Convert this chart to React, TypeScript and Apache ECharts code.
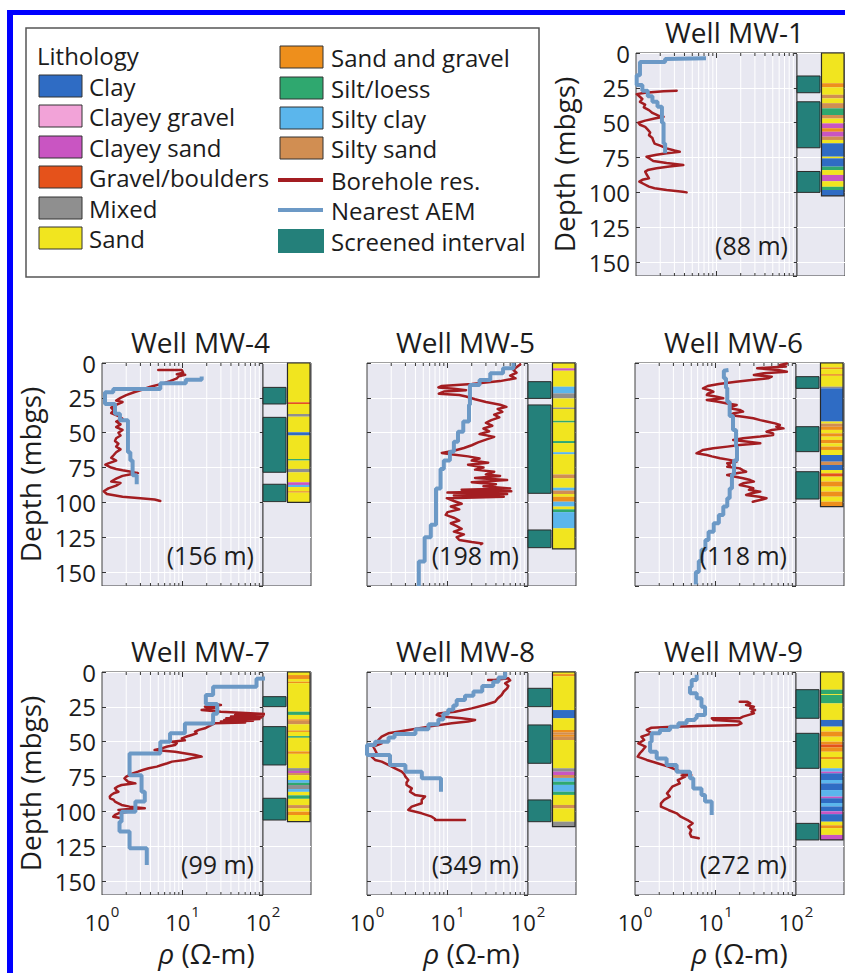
import React, { useEffect, useRef } from 'react';
import * as echarts from 'echarts';

const FONT = '"Open Sans", "DejaVu Sans", sans-serif';
const TXT = '#1c1c1c';
const BG = '#e8e8f1';
const FRAME = '#404040';
const RED = '#a31d21';
const BLUE = '#6c99c6';
const TEAL = '#24807a';

const LITH_TYPES = ['Clay', 'Clayey gravel', 'Clayey sand', 'Gravel/boulders', 'Mixed', 'Sand', 'Sand and gravel', 'Silt/loess', 'Silty clay', 'Silty sand'];
const LITH_COLORS = ['#2f6cc4', '#f2a3d8', '#c955c2', '#e5521b', '#8f8f8f', '#f1e51f', '#ee8f1c', '#2fa86f', '#5bb6ec', '#d18e52'];
const LINE_LEGEND = ['Borehole res.', 'Nearest AEM', 'Screened interval'];
const LEGEND_TITLE = 'Lithology';

const WELL_NAMES = ['Well MW-1', 'Well MW-4', 'Well MW-5', 'Well MW-6', 'Well MW-7', 'Well MW-8', 'Well MW-9'];
const DISTANCES = ['(88 m)', '(156 m)', '(198 m)', '(118 m)', '(99 m)', '(349 m)', '(272 m)'];
const GRID_VALUES = [2, 3, 4, 5, 6, 7, 8, 9, 10, 20, 30, 40, 50, 60, 70, 80, 90];
const DEPTH_MAX = 160;
const DEPTH_STEP = 25;
const RHO_MIN = 1;
const RHO_MAX = 100;

// ---------- MW-1 ----------
const MW1_RES = [[27, 3.2], [27.5, 2.2], [28.5, 1.3], [29.5, 1.02], [31, 1.1], [33, 1.2], [35, 1.12], [37, 1.3], [39, 1.25], [41, 1.45], [43, 1.6], [45, 1.9], [45.7, 2.2], [47, 1.7], [48.5, 1.3], [50, 1.07], [51.5, 1.12], [53, 1.3], [55, 1.4], [57, 1.5], [59, 1.45], [61, 1.6], [63, 1.64], [65, 1.7], [66.5, 2.0], [68.4, 2.4], [70, 3.0], [70.8, 3.5], [72, 2.4], [73, 1.8], [74.4, 1.35], [76, 1.5], [77.5, 1.64], [79, 2.4], [80.4, 3.87], [81.5, 2.6], [82.7, 1.8], [84, 1.4], [85.1, 1.3], [87, 1.35], [89.9, 1.45], [91, 1.2], [92.3, 1.1], [94, 1.25], [95.9, 1.45], [97, 1.7], [98.3, 2.4], [99.5, 3.8], [100, 4.26]];
const MW1_AEM_TOP = [3.8, 4.3, 6.5, 16, 23, 27, 31, 35, 38.5, 50, 65];
const MW1_AEM_RHO = [7.4, 2.3, 1.12, 1.02, 1.2, 1.4, 1.6, 1.85, 2.1, 2.2, 2.3];
const MW1_AEM_BOTTOM = 72;
const MW1_SCREENS = [[16.5, 28.5], [35, 68], [85, 100]];
const MW1_LITH = [[0, 21.7, 5], [21.7, 24.6, 6], [24.6, 30, 5], [30, 32.5, 9], [32.5, 36, 5], [36, 39.7, 9], [39.7, 44.5, 7], [44.5, 47, 9], [47, 50.5, 5], [50.5, 54, 2], [54, 56.5, 6], [56.5, 60, 2], [60, 62.4, 9], [62.4, 64.8, 5], [64.8, 74.4, 0], [74.4, 75.6, 5], [75.6, 81.5, 0], [81.5, 84, 7], [84, 87.5, 5], [87.5, 92, 2], [92, 96, 5], [96, 98.3, 7], [98.3, 102.5, 0]];

// ---------- MW-4 ----------
const MW4_RES = [[5, 5.0], [5, 9.8], [7, 10.2], [8, 8.5], [8.5, 10.8], [9.5, 9.0], [11, 8.5], [13, 7.0], [15, 5.5], [17, 4.0], [19, 3.2], [21, 2.5], [23, 2.0], [25, 1.7], [27, 1.5], [28, 1.8], [30, 1.5], [32, 1.3], [34, 1.4], [36, 1.3], [38, 1.6], [40, 1.8], [42, 1.5], [44, 1.7], [46, 1.5], [48, 1.8], [50, 1.6], [52, 1.7], [54, 1.5], [56, 1.45], [58, 1.6], [60, 1.5], [62, 1.7], [64, 1.5], [66, 1.4], [68, 1.3], [70, 1.5], [72, 1.2], [73, 1.1], [75, 1.3], [76, 1.5], [77, 1.8], [78, 2.3], [79, 2.8], [80, 2.2], [81, 1.8], [83, 1.5], [85, 1.3], [86, 1.7], [88, 1.5], [90, 1.2], [92, 1.05], [94, 1.15], [96, 1.8], [97, 3.0], [98, 4.5], [99, 5.3]];
const MW4_AEM_TOP = [9.6, 12, 14.5, 18.7, 21, 29.4, 36.5, 41, 64, 70, 80.6];
const MW4_AEM_RHO = [17.3, 11, 5.3, 1.38, 1.09, 1.45, 1.67, 2.1, 2.25, 2.4, 2.7];
const MW4_AEM_BOTTOM = 87;
const MW4_SCREENS = [[17.5, 29.4], [39, 78.4], [87, 99.5]];
const MW4_LITH = [[0, 28.2, 5], [28.2, 29.4, 3], [29.4, 36.6, 5], [36.6, 38.5, 4], [38.5, 49.7, 5], [49.7, 52, 0], [52, 68.9, 5], [68.9, 70, 7], [70, 76, 5], [76, 78.4, 4], [78.4, 85.6, 5], [85.6, 87.5, 2], [87.5, 89, 8], [89, 92, 5], [92, 93, 6], [93, 100, 5]];

// ---------- MW-5 ----------
const MW5_RES = [[1, 80], [3, 72], [5, 66], [7, 72], [9, 60], [11, 70], [13, 45], [15, 20], [16.5, 8.5], [17.5, 7.7], [18.5, 12], [19.5, 17], [20.5, 9], [22, 7.8], [23, 14], [24, 17], [26, 22], [28, 30], [30, 45], [31.5, 54], [33, 42], [35, 48], [37, 38], [39, 44], [41, 35], [43, 30], [45, 36], [47, 28], [49, 33], [51, 25], [53, 38], [55, 30], [57, 24], [59, 20], [61, 16], [63, 12], [64.5, 8.5], [65.5, 11], [67, 18], [68.5, 25], [70, 20], [71.5, 32], [73, 18], [75, 28], [76.5, 22], [78, 38], [80, 30], [81, 45], [82.5, 22], [84, 55], [85.5, 20], [87, 40], [88.5, 28], [90, 60], [91, 15], [92, 62], [93, 10], [94, 55], [95, 12], [96, 50], [97, 9.8], [99, 12], [101, 15], [103, 11], [105, 14], [107, 10], [109, 9.5], [111, 12], [113, 14], [115, 11], [117, 13], [119, 15], [121, 12], [123, 16], [125, 13], [127, 14], [128.5, 20], [129.5, 27], [130, 26]];
const MW5_AEM_TOP = [0, 3.8, 7.4, 12.2, 15.8, 30, 42, 49.3, 56.5, 63.6, 70, 76, 90, 116, 125, 142.5];
const MW5_AEM_RHO = [66, 49, 34, 25, 19, 18.5, 15.7, 13.5, 12, 10.7, 9, 8.2, 7.2, 6.2, 5.2, 4.4];
const MW5_AEM_BOTTOM = 160;
const MW5_SCREENS = [[13.4, 25.4], [30.1, 93.5], [119.8, 132.5]];
const MW5_LITH = [[0, 3.8, 5], [3.8, 5.5, 2], [5.5, 17, 5], [17, 21.8, 8], [21.8, 25.4, 4], [25.4, 32, 5], [32, 33, 4], [33, 41.5, 5], [41.5, 42.7, 7], [42.7, 56, 5], [56, 57.5, 7], [57.5, 64, 5], [64, 65.5, 8], [65.5, 80, 5], [80, 82.7, 9], [82.7, 89.5, 5], [89.5, 91.5, 8], [91.5, 94, 9], [94, 96, 5], [96, 99.5, 6], [99.5, 103, 8], [103, 105, 5], [105, 107, 7], [107, 118.6, 8], [118.6, 133.4, 5]];

// ---------- MW-6 ----------
const MW6_RES = [[0.3, 77], [1.4, 63], [2.5, 75], [3.8, 33], [5, 60], [6.2, 77], [7.4, 40], [8.6, 30], [9.8, 50], [11, 45], [12.2, 28], [13.4, 18], [15, 11], [16.5, 8], [18.2, 7], [19.5, 8.5], [20.6, 9.4], [22, 8], [22.9, 7.8], [24, 10], [25.3, 12.5], [26.5, 7.8], [27.7, 10.4], [29, 14], [30.1, 18.3], [31.3, 16], [32.5, 15], [33.7, 20], [34.9, 22], [36, 17], [37.3, 15], [38.5, 22], [39.7, 29.5], [41, 36], [42, 43], [43.3, 55], [44.5, 63], [45.7, 57], [46.9, 70], [48, 50], [49.3, 43], [50.5, 52], [51.6, 52], [52.8, 36], [54, 22], [55.2, 16.6], [56.4, 24], [57.6, 36], [58.8, 20], [60, 14], [61.2, 9.4], [62.4, 7], [63.6, 6.4], [64.8, 5.8], [66, 7.8], [67, 9], [68.4, 11.4], [69.5, 15], [70.8, 18.3], [72, 14], [73.2, 15.1], [74.5, 14], [75.6, 20], [77, 22], [78, 24], [79, 19], [80.3, 14], [81.5, 17], [82.7, 22], [84, 27], [85.1, 30], [86.3, 22], [87.5, 20], [88.7, 25], [89.9, 29.5], [91, 26], [92.3, 36], [93.5, 28], [94.7, 24], [96, 35], [97, 43], [98, 38], [99.5, 29]];
const MW6_AEM_TOP = [5, 5.5, 11, 18, 28, 38, 48, 60, 70, 80, 90, 97, 103, 109, 115, 121, 127, 134, 142, 150];
const MW6_AEM_RHO = [14.5, 12.7, 13.5, 14, 15, 16.5, 18, 18.5, 17, 16, 15, 14, 12.5, 11, 9.5, 8.2, 7.5, 6.7, 6.2, 5.7];
const MW6_AEM_BOTTOM = 159;
const MW6_SCREENS = [[9.8, 18.2], [45.7, 63.6], [78, 97.6]];
const MW6_LITH = [[0, 3.2, 5], [3.2, 4.4, 6], [4.4, 8, 5], [8, 9.2, 6], [9.2, 17, 5], [17, 18.2, 4], [18.2, 42, 0], [42, 43.5, 5], [43.5, 45.7, 9], [45.7, 48, 6], [48, 50.5, 5], [50.5, 52.8, 6], [52.8, 55.2, 5], [55.2, 57.6, 6], [57.6, 60, 5], [60, 62.4, 6], [62.4, 66, 5], [66, 70.8, 0], [70.8, 73.2, 9], [73.2, 76.8, 0], [76.8, 79.2, 5], [79.2, 81.5, 3], [81.5, 85.1, 5], [85.1, 88.7, 6], [88.7, 92.3, 5], [92.3, 95.9, 6], [95.9, 99.5, 5], [99.5, 103, 6]];

// ---------- MW-7 ----------
const MW7_RES = [[22.5, 21], [23.7, 30], [24.9, 19], [26, 25], [27.3, 17.3], [28.5, 30], [29.7, 80], [30.2, 111], [30.8, 45], [31.5, 100], [32, 40], [32.6, 95], [33.2, 35], [33.8, 90], [34.4, 33], [35, 75], [35.6, 30], [36.2, 60], [36.8, 25], [38.5, 22], [40.4, 19], [41.5, 16], [42.8, 14.3], [44, 15], [45.2, 13], [46.5, 11], [47.6, 9.8], [49, 10.7], [50, 7.4], [51, 8.5], [52.4, 8.1], [53.5, 6.5], [54.8, 5.5], [56, 4.5], [57.2, 8.1], [58.3, 10.5], [59.5, 14.3], [60.7, 17.3], [61.9, 13], [63.1, 10.7], [64.3, 7.4], [65.5, 6.5], [66.7, 5.5], [67.9, 4.8], [69.1, 3.8], [70.3, 3.2], [71.5, 2.8], [72.7, 2.4], [73.9, 2.2], [75, 2.0], [76.3, 1.9], [77.5, 2.0], [78.7, 2.1], [79.9, 2.6], [81.1, 1.75], [82.3, 1.55], [83.5, 1.45], [84.7, 1.5], [85.9, 1.6], [87, 1.4], [88.2, 1.3], [89.4, 1.25], [90.6, 1.26], [91.8, 1.4], [93, 1.45], [94.2, 1.6], [95.4, 1.75], [96.6, 2.2], [97.8, 3.4], [98.4, 2.0], [99, 1.6], [100.2, 2.1], [101.4, 1.6], [102.6, 1.45], [103.8, 1.38], [105, 1.75]];
const MW7_AEM_TOP = [4.5, 4.8, 10.5, 16.5, 23, 30, 37, 44, 50, 58.4, 74, 86, 93, 100.2, 107.4, 114.5, 126.5];
const MW7_AEM_RHO = [127, 83, 24, 19.5, 27, 24, 10.7, 7.0, 5.3, 2.2, 3.1, 3.4, 2.6, 1.75, 1.65, 2.2, 3.6];
const MW7_AEM_BOTTOM = 138.5;
const MW7_SCREENS = [[17.7, 24.9], [39.2, 66.7], [90.6, 106.2]];
const MW7_LITH = [[0, 2.2, 5], [2.2, 5, 6], [5, 7, 5], [7, 8, 6], [8, 28.5, 5], [28.5, 30.8, 7], [30.8, 34, 5], [34, 35, 6], [35, 37.5, 9], [37.5, 42, 5], [42, 43, 6], [43, 46, 5], [46, 47.2, 7], [47.2, 57, 5], [57, 58.7, 6], [58.7, 69, 5], [69, 71, 4], [71, 72.5, 2], [72.5, 74, 9], [74, 77.5, 5], [77.5, 79.5, 8], [79.5, 81.1, 7], [81.1, 84, 4], [84, 86, 8], [86, 88.5, 5], [88.5, 91, 7], [91, 95.5, 5], [95.5, 97.8, 9], [97.8, 100.2, 5], [100.2, 102.6, 6], [102.6, 107.4, 5]];

// ---------- MW-8 ----------
const MW8_RES = [[5.7, 32], [5.7, 38], [4.5, 57], [6, 60], [8.1, 52], [10, 57], [11.7, 55], [14, 50], [16.5, 47], [19, 42], [21.3, 39], [23.7, 29], [26.1, 20], [28.5, 12.4], [29.7, 7.7], [30.8, 7.35], [32, 8.5], [33.2, 15], [34.4, 22], [35.6, 18], [36.8, 11.3], [39.2, 5.8], [41.6, 3.3], [44, 1.84], [46.4, 1.52], [48.8, 1.38], [51.2, 1.52], [53.6, 1.2], [56, 1.26], [58.3, 1.32], [60.7, 1.14], [63.1, 1.26], [64.3, 1.52], [66.7, 1.84], [69.1, 2.23], [71.5, 2.7], [73.3, 2.9], [75.1, 3.0], [77.5, 3.26], [79.3, 3.1], [81.1, 3.1], [83.5, 3.6], [85.9, 3.42], [88.2, 3.95], [89.4, 5.26], [91.8, 4.78], [94.2, 4.78], [96.6, 3.59], [99, 3.26], [101.4, 4.78], [103.8, 6.37], [105.5, 7.0], [106.2, 7.0], [106.2, 16.5]];
const MW8_AEM_TOP = [0, 4, 7, 10, 14, 17, 20, 24, 27, 30, 34, 37.5, 41, 44.5, 47, 50, 52.4, 59.5, 66.7, 71.5, 76.3];
const MW8_AEM_RHO = [52, 43, 37, 27, 21, 16.5, 13, 11.8, 10.2, 8.9, 7.7, 5.8, 4.0, 2.2, 1.85, 1.26, 1.0, 1.93, 3.0, 4.8, 8.3];
const MW8_AEM_BOTTOM = 86;
const MW8_SCREENS = [[11.7, 24.9], [38, 65.5], [91.8, 107.4]];
const MW8_LITH = [[0, 1.5, 5], [1.5, 3, 6], [3, 27.3, 5], [27.3, 33.2, 0], [33.2, 41.6, 5], [41.6, 43.5, 6], [43.5, 45, 9], [45, 46.5, 6], [46.5, 48.8, 9], [48.8, 69.1, 5], [69.1, 71.5, 4], [71.5, 73.9, 2], [73.9, 76, 9], [76, 78.7, 8], [78.7, 81, 7], [81, 85.9, 8], [85.9, 88.2, 7], [88.2, 95.4, 5], [95.4, 97.8, 9], [97.8, 107.4, 5], [107.4, 110.9, 4]];

// ---------- MW-9 ----------
const MW9_RES = [[21.3, 20], [21.3, 25], [22.5, 27], [23.7, 24], [24.9, 30], [26.1, 27], [27.3, 31], [28.5, 28], [29.7, 30], [30.8, 26], [32, 22], [33.2, 20], [33.2, 9], [34.4, 9.5], [35.6, 20], [36.8, 21], [38, 19], [38.6, 8], [39.2, 3.0], [40, 1.6], [41.6, 1.4], [44, 1.6], [46.4, 1.2], [48.8, 1.3], [51.2, 1.1], [53.6, 1.35], [56, 1.25], [58.3, 1.15], [60.7, 1.08], [63.1, 1.4], [65.5, 1.9], [67.9, 2.6], [70.3, 3.3], [72.7, 4.0], [73.9, 5.0], [74.2, 3.8], [75.1, 4.2], [77.5, 3.4], [79.9, 3.6], [82.3, 2.9], [84.7, 2.7], [87.1, 2.5], [89.4, 2.7], [91.8, 2.3], [94.2, 2.1], [96.6, 2.1], [99, 2.6], [101.4, 3.3], [103.8, 3.7], [106.2, 4.5], [108.6, 5.2], [111, 4.6], [113.4, 5.0], [115.8, 4.8], [118.2, 5.0], [119.3, 6.2]];
const MW9_AEM_TOP = [2, 5.7, 10.5, 15.3, 18.9, 24.9, 30.8, 33.2, 34.4, 36.8, 39.2, 41.6, 44, 50, 57.2, 62, 66.7, 71.5, 76.3, 83.5, 88.2, 93];
const MW9_AEM_RHO = [5.84, 5.06, 4.82, 5.84, 6.7, 7.42, 5.84, 5.56, 4.38, 3.46, 2.72, 2.04, 1.61, 1.54, 1.86, 2.47, 3.29, 4.82, 5.3, 6.7, 7.42, 8.97];
const MW9_AEM_BOTTOM = 102.6;
const MW9_SCREENS = [[12.7, 33.2], [44, 69.1], [108.6, 120.5]];
const MW9_LITH = [[0, 12.7, 5], [12.7, 15.9, 7], [15.9, 16.5, 5], [16.5, 22.5, 7], [22.5, 34.4, 5], [34.4, 39.2, 0], [39.2, 42.8, 5], [42.8, 46.4, 6], [46.4, 50, 5], [50, 52, 6], [52, 54, 3], [54, 57.2, 6], [57.2, 61, 5], [61, 62.5, 6], [62.5, 69.1, 5], [69.1, 71.5, 8], [71.5, 72.7, 2], [72.7, 77.5, 0], [77.5, 79.9, 8], [79.9, 84.7, 0], [84.7, 89.4, 8], [89.4, 90.6, 2], [90.6, 94, 0], [94, 96.5, 8], [96.5, 100, 0], [100, 102, 2], [102, 107.4, 0], [107.4, 110, 5], [110, 112, 6], [112, 116.9, 5], [116.9, 120.5, 2]];

const WELLS = [
  { res: MW1_RES, top: MW1_AEM_TOP, rho: MW1_AEM_RHO, bottom: MW1_AEM_BOTTOM, screens: MW1_SCREENS, lith: MW1_LITH },
  { res: MW4_RES, top: MW4_AEM_TOP, rho: MW4_AEM_RHO, bottom: MW4_AEM_BOTTOM, screens: MW4_SCREENS, lith: MW4_LITH },
  { res: MW5_RES, top: MW5_AEM_TOP, rho: MW5_AEM_RHO, bottom: MW5_AEM_BOTTOM, screens: MW5_SCREENS, lith: MW5_LITH },
  { res: MW6_RES, top: MW6_AEM_TOP, rho: MW6_AEM_RHO, bottom: MW6_AEM_BOTTOM, screens: MW6_SCREENS, lith: MW6_LITH },
  { res: MW7_RES, top: MW7_AEM_TOP, rho: MW7_AEM_RHO, bottom: MW7_AEM_BOTTOM, screens: MW7_SCREENS, lith: MW7_LITH },
  { res: MW8_RES, top: MW8_AEM_TOP, rho: MW8_AEM_RHO, bottom: MW8_AEM_BOTTOM, screens: MW8_SCREENS, lith: MW8_LITH },
  { res: MW9_RES, top: MW9_AEM_TOP, rho: MW9_AEM_RHO, bottom: MW9_AEM_BOTTOM, screens: MW9_SCREENS, lith: MW9_LITH },
];

// layout (pixels)
const PANEL_POS = [[636, 53], [102, 363], [367, 363], [635, 363], [102, 672], [367, 672], [635, 672]];
const PLOT_W = 161;
const COL_W = 48;
const PLOT_H = 223;
const Y_LABEL_PANELS = [0, 1, 4];
const X_LABEL_PANELS = [4, 5, 6];
const SCREEN_X = [0, 0.48];
const LITH_X = [0.51, 0.98];

function aemSteps(tops: number[], rhos: number[], bottom: number) {
  const pts = tops.map((t, i) => [rhos[i], t]);
  pts.push([rhos[rhos.length - 1], bottom]);
  return pts;
}

function buildOption() {
  const grid: any[] = [];
  const xAxis: any[] = [];
  const yAxis: any[] = [];
  const series: any[] = [];
  const graphic: any[] = [];

  const gridRender = (params: any, api: any) => {
    const v = api.value(0);
    const a = api.coord([v, 0]);
    const b = api.coord([v, DEPTH_MAX]);
    const t = v === 10 ? 5 : 3;
    return {
      type: 'group',
      children: [
        { type: 'line', shape: { x1: a[0], y1: a[1], x2: b[0], y2: b[1] }, style: { stroke: '#ffffff', lineWidth: 1 } },
        { type: 'line', shape: { x1: a[0], y1: a[1], x2: a[0], y2: a[1] + t }, style: { stroke: '#333', lineWidth: 1 } },
        { type: 'line', shape: { x1: b[0], y1: b[1], x2: b[0], y2: b[1] - t }, style: { stroke: '#333', lineWidth: 1 } },
      ],
    };
  };
  const screenRender = (params: any, api: any) => {
    const p1 = api.coord([SCREEN_X[0], api.value(0)]);
    const p2 = api.coord([SCREEN_X[1], api.value(1)]);
    return { type: 'rect', shape: { x: p1[0], y: p1[1], width: p2[0] - p1[0], height: p2[1] - p1[1] }, style: { fill: TEAL, stroke: '#2a2a2a', lineWidth: 1 } };
  };
  const lithRender = (params: any, api: any) => {
    const p1 = api.coord([LITH_X[0], api.value(0)]);
    const p2 = api.coord([LITH_X[1], api.value(1)]);
    return { type: 'rect', shape: { x: p1[0], y: p1[1], width: p2[0] - p1[0], height: p2[1] - p1[1] }, style: { fill: LITH_COLORS[api.value(2)] } };
  };
  const outlineRender = (params: any, api: any) => {
    const p1 = api.coord([LITH_X[0], api.value(0)]);
    const p2 = api.coord([LITH_X[1], api.value(1)]);
    return { type: 'rect', shape: { x: p1[0], y: p1[1], width: p2[0] - p1[0], height: p2[1] - p1[1] }, style: { fill: 'none', stroke: '#2a2a2a', lineWidth: 1.2 } };
  };

  WELLS.forEach((w, i) => {
    const [L, T] = PANEL_POS[i];
    const g = grid.length;
    const showY = Y_LABEL_PANELS.includes(i);
    const showX = X_LABEL_PANELS.includes(i);
    grid.push({ left: L, top: T, width: PLOT_W, height: PLOT_H, show: true, backgroundColor: BG, borderColor: FRAME, borderWidth: 1, containLabel: false, outerBoundsMode: 'none' });
    grid.push({ left: L + PLOT_W, top: T, width: COL_W, height: PLOT_H, show: true, backgroundColor: BG, borderColor: FRAME, borderWidth: 1, containLabel: false, outerBoundsMode: 'none' });

    xAxis.push({
      type: 'log', logBase: 10, min: RHO_MIN, max: RHO_MAX, gridIndex: g,
      axisLine: { show: false }, axisTick: { show: false },
      splitLine: { show: false },
      axisLabel: showX ? {
        show: true, margin: 8,
        formatter: (v: number) => `{b|10}{s|${Math.round(Math.log10(v))}}`,
        rich: {
          b: { fontSize: 22, fontFamily: FONT, color: TXT, lineHeight: 30, verticalAlign: 'bottom' },
          s: { fontSize: 15, fontFamily: FONT, color: TXT, lineHeight: 30, verticalAlign: 'top', padding: [0, 0, 0, 1] },
        },
      } : { show: false },
    });
    xAxis.push({ type: 'value', min: 0, max: 1, gridIndex: g + 1, show: false });

    yAxis.push({
      type: 'value', inverse: true, min: 0, max: DEPTH_MAX, interval: DEPTH_STEP, gridIndex: g,
      axisLine: { show: false },
      axisTick: { show: true, inside: true, length: 4, lineStyle: { color: '#333' } },
      splitLine: { show: true, lineStyle: { color: '#ffffff', width: 1 } },
      axisLabel: showY ? { show: true, fontSize: 24, fontFamily: FONT, color: TXT, margin: 6, showMaxLabel: false, formatter: (v: number) => (v > 150 ? '' : String(v)) } : { show: false },
    });
    yAxis.push({
      type: 'value', inverse: true, min: 0, max: DEPTH_MAX, interval: DEPTH_STEP, gridIndex: g + 1, position: 'right',
      axisLine: { show: false },
      axisTick: { show: true, inside: true, length: 4, lineStyle: { color: '#333' } },
      splitLine: { show: true, lineStyle: { color: '#ffffff', width: 1 } },
      axisLabel: { show: false },
    });

    series.push({
      type: 'custom', xAxisIndex: g, yAxisIndex: g, silent: true, z: 2,
      data: GRID_VALUES.map((v) => [v, 0]), renderItem: gridRender,
    });
    series.push({
      type: 'line', name: LINE_LEGEND[0], xAxisIndex: g, yAxisIndex: g, silent: true, z: 3, clip: false,
      data: w.res.map(([d, r]) => [r, d]), symbol: 'none', showSymbol: false,
      lineStyle: { color: RED, width: 2.5, join: 'round', cap: 'round' },
    });
    series.push({
      type: 'line', name: LINE_LEGEND[1], xAxisIndex: g, yAxisIndex: g, silent: true, z: 4, clip: false, step: 'start',
      data: aemSteps(w.top, w.rho, w.bottom), symbol: 'none', showSymbol: false,
      lineStyle: { color: BLUE, width: 4 },
    });
    series.push({
      type: 'custom', xAxisIndex: g + 1, yAxisIndex: g + 1, silent: true, z: 3,
      data: w.screens, renderItem: screenRender,
    });
    series.push({
      type: 'custom', xAxisIndex: g + 1, yAxisIndex: g + 1, silent: true, z: 3,
      data: w.lith, renderItem: lithRender,
    });
    const lithBottom = w.lith[w.lith.length - 1][1];
    series.push({
      type: 'custom', xAxisIndex: g + 1, yAxisIndex: g + 1, silent: true, z: 4,
      data: [[0, lithBottom]], renderItem: outlineRender,
    });

    // titles & labels
    graphic.push({ type: 'text', x: L + (PLOT_W + COL_W) / 2 - 6, y: T - 21, z: 10, style: { text: WELL_NAMES[i], fontSize: 28, fontFamily: FONT, fill: TXT, align: 'center', verticalAlign: 'middle' } });
    graphic.push({ type: 'text', x: L + PLOT_W - 9, y: T + 192, z: 10, style: { text: DISTANCES[i], fontSize: 25, fontFamily: FONT, fill: TXT, align: 'right', verticalAlign: 'middle' } });
    if (showY) {
      graphic.push({ type: 'text', x: L - 72, y: T + PLOT_H / 2, rotation: Math.PI / 2, z: 10, style: { text: 'Depth (mbgs)', fontSize: 28, fontFamily: FONT, fill: TXT, align: 'center', verticalAlign: 'middle' } });
    }
    if (showX) {
      graphic.push({
        type: 'text', x: L + (PLOT_W + COL_W) / 2, y: T + PLOT_H + 58, z: 10,
        style: { text: '{i|ρ} (Ω-m)', fontSize: 28, fontFamily: FONT, fill: TXT, align: 'center', verticalAlign: 'middle', rich: { i: { fontStyle: 'italic', fontSize: 28, fontFamily: FONT, fill: TXT } } },
      });
    }
  });

  // blue frame
  graphic.push({ type: 'rect', z: 20, shape: { x: 7, y: 10, width: 845, height: 5 }, style: { fill: '#0000ff' } });
  graphic.push({ type: 'rect', z: 20, shape: { x: 7, y: 10, width: 6, height: 973 }, style: { fill: '#0000ff' } });

  // legend box
  const lg: any[] = [];
  const ts = (text: string) => ({ text, fontSize: 24, lineHeight: 24, fontFamily: FONT, fill: TXT, verticalAlign: 'middle' });
  lg.push({ type: 'rect', shape: { x: 26, y: 28, width: 513, height: 249 }, style: { fill: '#ffffff', stroke: '#555', lineWidth: 1.5 } });
  lg.push({ type: 'text', x: 37, y: 55, style: ts(LEGEND_TITLE) });
  const col1Y = [86, 116, 147, 177, 208, 238];
  const col2Y = [57, 88, 118, 148, 180, 210, 241];
  for (let k = 0; k < 6; k++) {
    lg.push({ type: 'rect', shape: { x: 39, y: col1Y[k] - 11, width: 43, height: 22 }, style: { fill: LITH_COLORS[k], stroke: '#333', lineWidth: 1 } });
    lg.push({ type: 'text', x: 89, y: col1Y[k], style: ts(LITH_TYPES[k]) });
  }
  for (let k = 0; k < 4; k++) {
    lg.push({ type: 'rect', shape: { x: 280, y: col2Y[k] - 11, width: 43, height: 22 }, style: { fill: LITH_COLORS[6 + k], stroke: '#333', lineWidth: 1 } });
    lg.push({ type: 'text', x: 331, y: col2Y[k], style: ts(LITH_TYPES[6 + k]) });
  }
  lg.push({ type: 'line', shape: { x1: 278, y1: col2Y[4], x2: 323, y2: col2Y[4] }, style: { stroke: RED, lineWidth: 4 } });
  lg.push({ type: 'text', x: 331, y: col2Y[4], style: ts(LINE_LEGEND[0]) });
  lg.push({ type: 'line', shape: { x1: 278, y1: col2Y[5], x2: 323, y2: col2Y[5] }, style: { stroke: BLUE, lineWidth: 4 } });
  lg.push({ type: 'text', x: 331, y: col2Y[5], style: ts(LINE_LEGEND[1]) });
  lg.push({ type: 'rect', shape: { x: 278, y: col2Y[6] - 12, width: 46, height: 24 }, style: { fill: TEAL } });
  lg.push({ type: 'text', x: 331, y: col2Y[6], style: ts(LINE_LEGEND[2]) });
  graphic.push({ type: 'group', z: 15, children: lg });

  return {
    animation: false,
    backgroundColor: '#ffffff',
    grid, xAxis, yAxis, series, graphic,
  };
}

export default function App() {
  const ref = useRef<HTMLDivElement>(null);
  useEffect(() => {
    if (!ref.current) return;
    const chart = echarts.init(ref.current, undefined, { renderer: 'svg' });
    chart.setOption(buildOption() as any);
    return () => chart.dispose();
  }, []);
  return <div ref={ref} style={{ position: 'absolute', left: 0, top: 0, width: 845, height: 973 }} />;
}
